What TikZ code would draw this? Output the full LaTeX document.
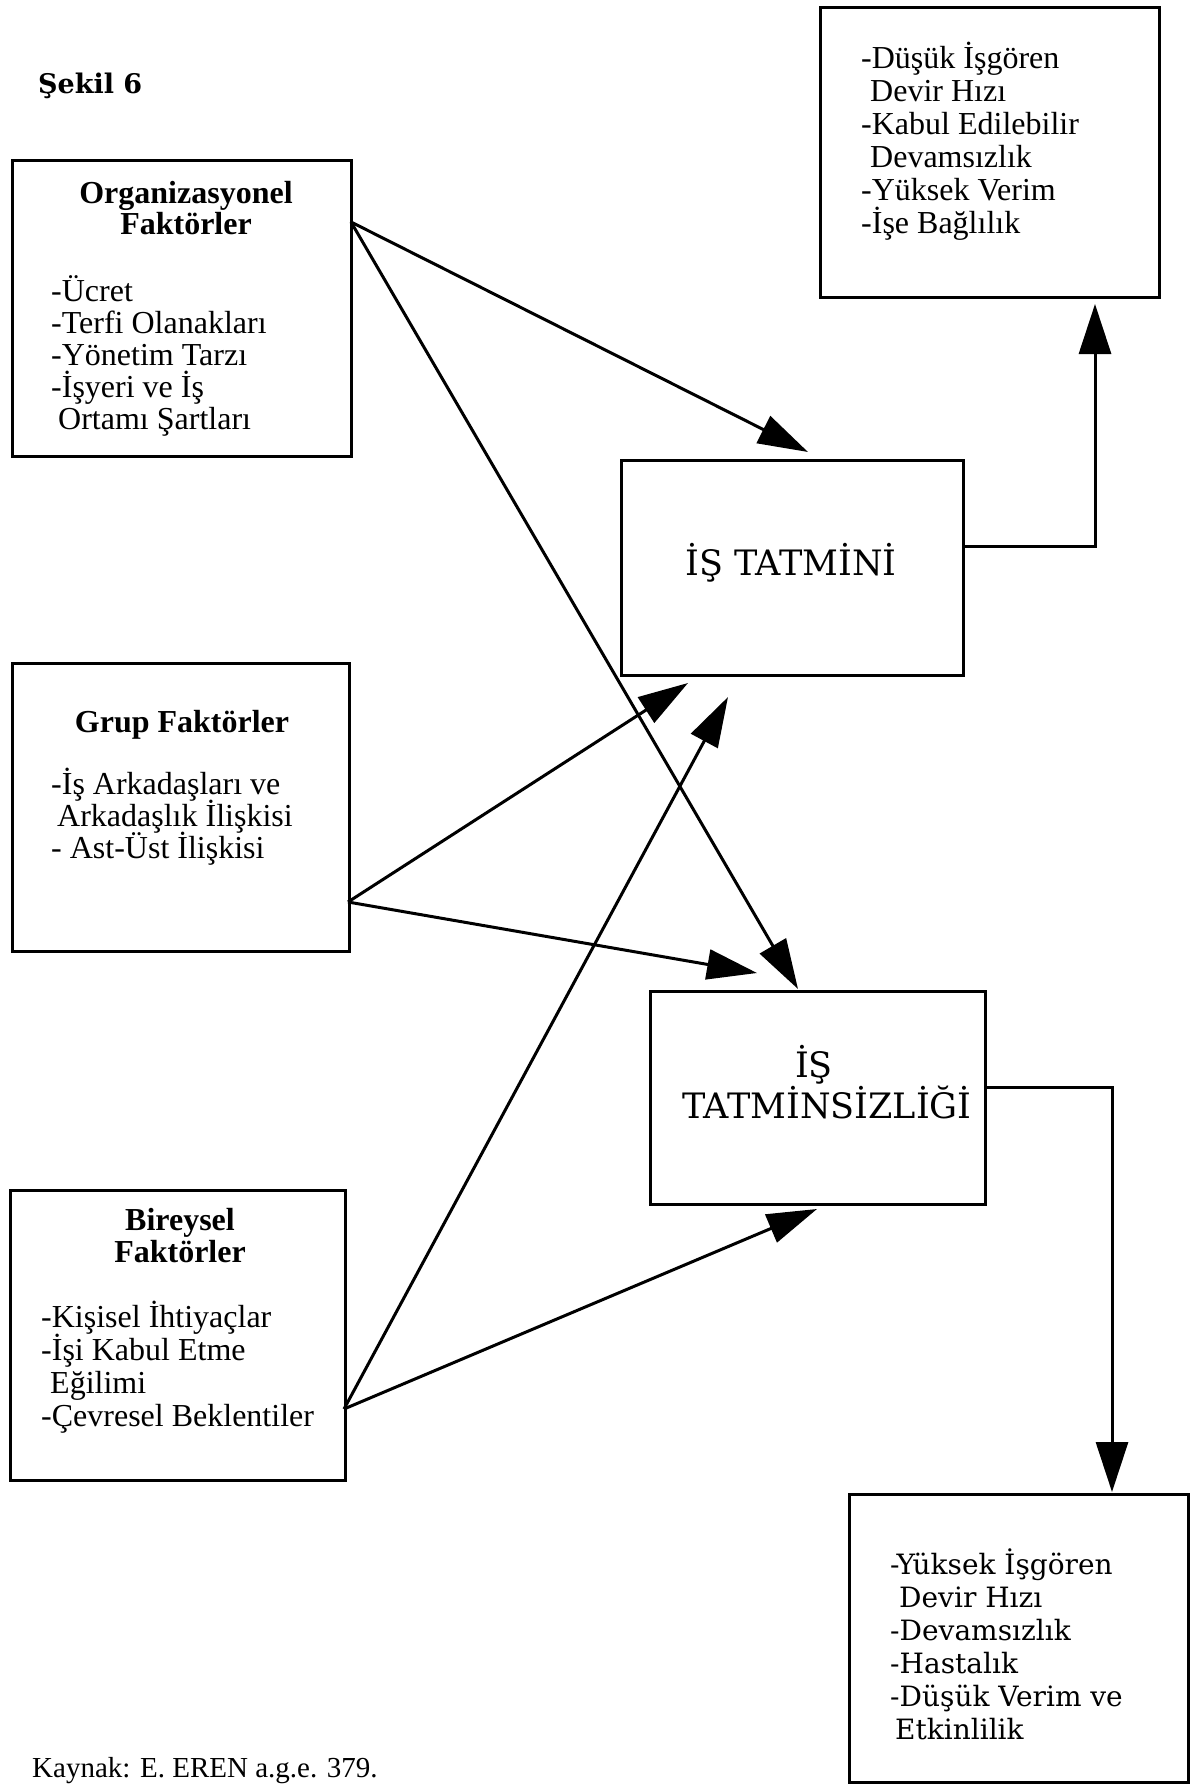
\documentclass[tikz,border=0pt]{standalone}
\usepackage{fontspec}
\setmainfont{Liberation Serif}
\newfontfamily\schoolbook{DejaVu Serif}
\usetikzlibrary{arrows.meta}

\begin{document}
\begin{tikzpicture}[x=1pt,y=-1pt,
  box/.style={draw, line width=3pt, anchor=north west, inner sep=0pt},
  conn/.style={line width=3pt, -{Triangle[length=50pt,width=30pt]}},
  feed/.style={line width=3pt, -{Triangle[length=50pt,width=32pt]}},
  item/.style={anchor=base west, inner sep=0pt, font=\fontsize{32}{32}\selectfont},
  head/.style={anchor=base, inner sep=0pt, font=\fontsize{32}{32}\selectfont\bfseries},
  big/.style={anchor=base, inner sep=0pt, font=\schoolbook\fontsize{35}{38}\selectfont},
  wide/.style={anchor=base west, inner sep=0pt, font=\schoolbook\fontsize{28}{32}\selectfont}]
\useasboundingbox (0,0) rectangle (1196,1785);

% title
\node[anchor=base west, inner sep=0pt, font=\schoolbook\bfseries\fontsize{27}{30}\selectfont] (title) at (38,93) {Şekil 6};

% boxes
\node[box, minimum width=339pt, minimum height=296pt] (org) at (11,159) {};
\node[box, minimum width=339pt, minimum height=290pt] (out1) at (819,6) {};
\node[box, minimum width=342pt, minimum height=215pt] (sat) at (620,459) {};
\node[box, minimum width=337pt, minimum height=288pt] (grp) at (11,662) {};
\node[box, minimum width=335pt, minimum height=213pt] (dis) at (649,990) {};
\node[box, minimum width=335pt, minimum height=290pt] (ind) at (9,1189) {};
\node[box, minimum width=339pt, minimum height=288pt] (out2) at (848,1493) {};

% organisational factors
\node[head] (orgh1) at (186,203) {Organizasyonel};
\node[head] (orgh2) at (186,234) {Faktörler};
\foreach \dx/\t [count=\i] in {0/-Ücret, 0/-Terfi Olanakları, 0/-Yönetim Tarzı, 0/-İşyeri ve İş, 7/Ortamı Şartları}
  \node[item] (orgi\i) at (51+\dx, 301+32*\i-32) {\t};

% positive outcomes
\foreach \dx/\t [count=\i] in {0/-Düşük İşgören, 9/Devir Hızı, 0/-Kabul Edilebilir, 9/Devamsızlık, 0/-Yüksek Verim, 0/-İşe Bağlılık}
  \node[item] (out1i\i) at (861+\dx, 68+33*\i-33) {\t};

% job satisfaction
\node[big] (sath) at (791,575) {İŞ TATMİNİ};

% group factors
\node[head] (grph) at (182,732) {Grup Faktörler};
\foreach \dx/\t [count=\i] in {0/-İş Arkadaşları ve, 6/Arkadaşlık İlişkisi, 0/- Ast-Üst İlişkisi}
  \node[item] (grpi\i) at (51+\dx, 794+32*\i-32) {\t};

% job dissatisfaction
\node[big] (dish1) at (814,1077) {İŞ};
\node[big] (dish2) at (827,1118) {TATMİNSİZLİĞİ};

% individual factors
\node[head] (indh1) at (180,1230) {Bireysel};
\node[head] (indh2) at (180,1262) {Faktörler};
\foreach \dx/\t [count=\i] in {0/-Kişisel İhtiyaçlar, 0/-İşi Kabul Etme, 9/Eğilimi, 0/-Çevresel Beklentiler}
  \node[item] (indi\i) at (41+\dx, 1327+33*\i-33) {\t};

% negative outcomes
\foreach \dx/\t [count=\i] in {0/-Yüksek İşgören, 9/Devir Hızı, 0/-Devamsızlık, 0/-Hastalık, 0/-Düşük Verim ve, 5/Etkinlilik}
  \node[wide] (out2i\i) at (890+\dx, 1574+33*\i-33) {\t};

% source
\node[anchor=base west, inner sep=0pt, font=\fontsize{29}{30}\selectfont] (src) at (32,1777) {Kaynak: E. EREN a.g.e. 379.};

% connector end points
\coordinate (orgO) at (351,222);
\coordinate (grpO) at (348,902);
\coordinate (indO) at (344,1409);
\coordinate (satIa) at (808,452);
\coordinate (satIb) at (688,683);
\coordinate (satIc) at (728,697);
\coordinate (disIa) at (798,989);
\coordinate (disIb) at (757,973);
\coordinate (disIc) at (817,1209);
\coordinate (satO) at (962,546);
\coordinate (satK) at (1095,546);
\coordinate (out1I) at (1095,304);
\coordinate (disO) at (984,1087);
\coordinate (disK) at (1112,1087);
\coordinate (out2I) at (1112,1492);

% connectors
\draw[conn] (orgO) -- (satIa);
\draw[conn] (orgO) -- (disIa);
\draw[conn] (grpO) -- (satIb);
\draw[conn] (grpO) -- (disIb);
\draw[conn] (indO) -- (satIc);
\draw[conn] (indO) -- (disIc);
\draw[feed] (satO) -- (satK) -- (out1I);
\draw[feed] (disO) -- (disK) -- (out2I);
\end{tikzpicture}
\end{document}
